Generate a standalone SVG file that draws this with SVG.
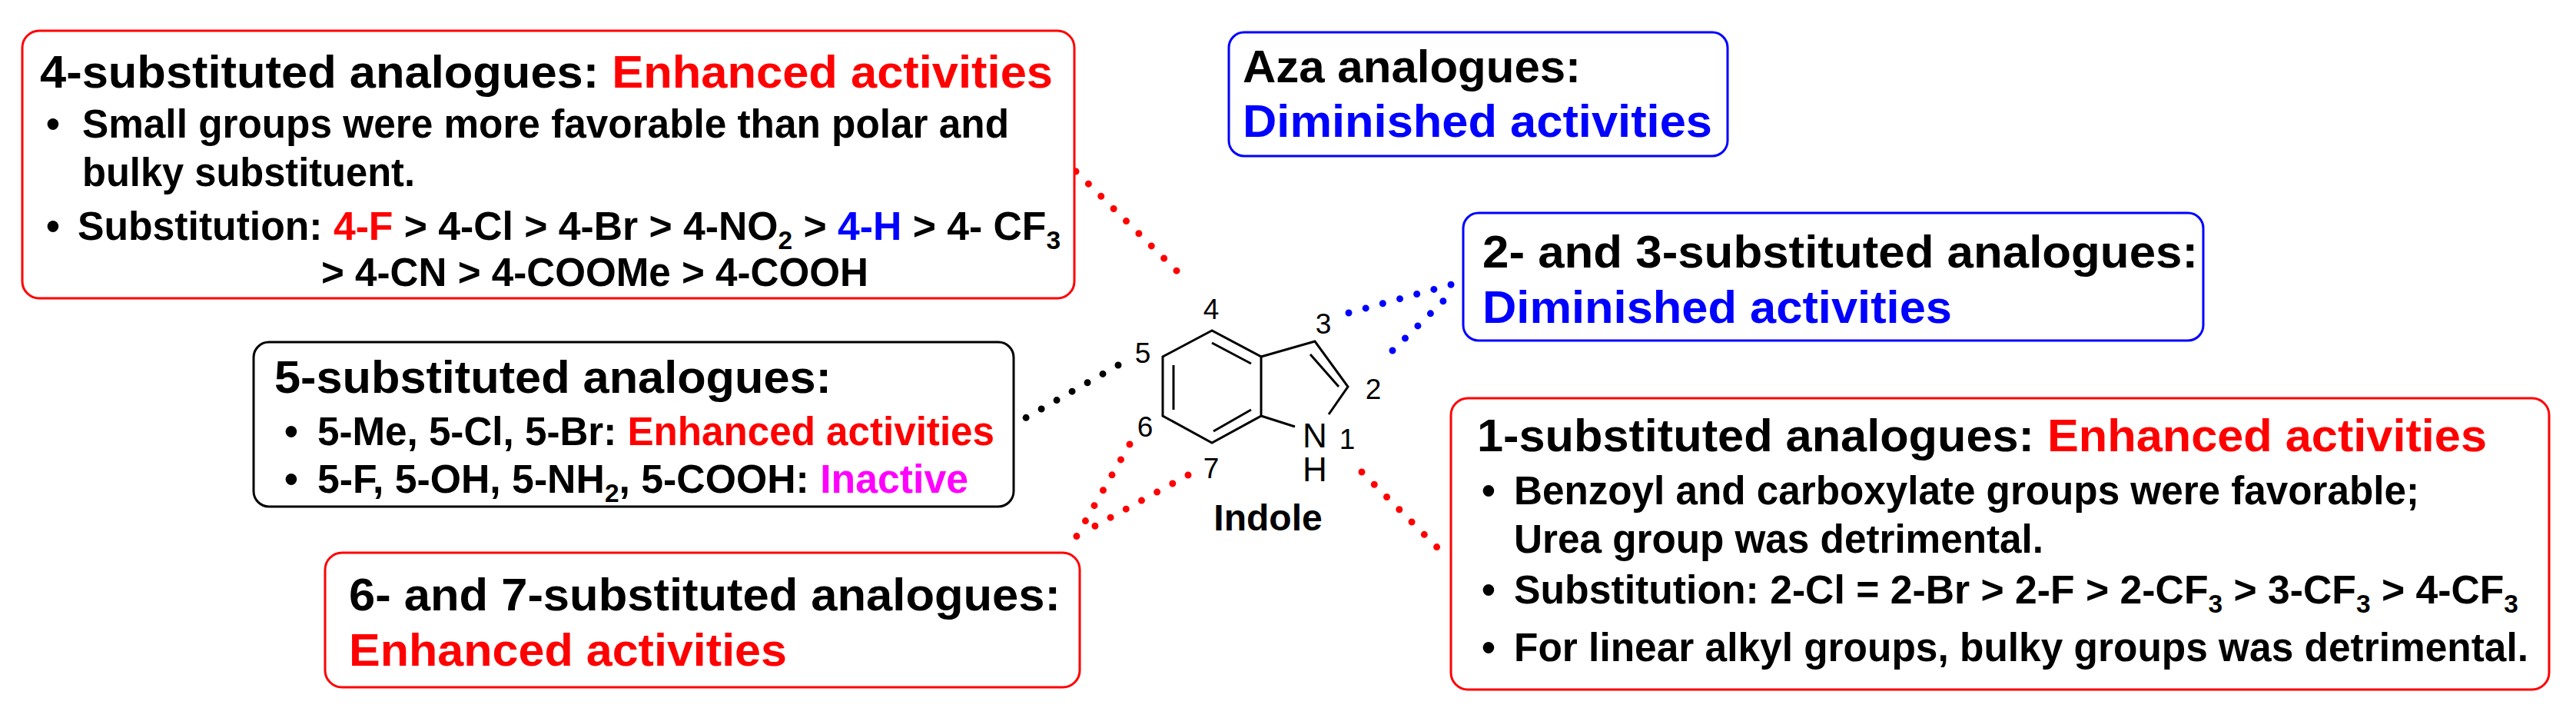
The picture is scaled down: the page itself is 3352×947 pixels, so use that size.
<svg xmlns="http://www.w3.org/2000/svg" width="3352" height="947" viewBox="0 0 3352 947">
<style>
text{font-family:"Liberation Sans",Arial,sans-serif;font-weight:bold;fill:#000}
.t{font-size:60px}
.b{font-size:51px}
.r{fill:#ff0000}
.bl{fill:#0000ff}
.m{fill:#ff00ff}
.box{fill:#fff;stroke-width:3}
.dot{fill:none;stroke-width:9;stroke-linecap:round;stroke-dasharray:0 23}
.bond{stroke:#000;stroke-width:3;fill:none}
.num{font-family:"Liberation Sans",Arial,sans-serif;font-weight:normal;font-size:37px}
</style>
<rect width="3352" height="947" fill="#fff"/>
<g id="connectors">
<line class="dot" stroke="#ff0000" x1="1400" y1="223" x2="1542" y2="363"/>
<line class="dot" stroke="#0000ff" x1="1755" y1="407" x2="1900" y2="367"/>
<line class="dot" stroke="#0000ff" x1="1812" y1="456" x2="1892" y2="378"/>
<line class="dot" stroke="#000" x1="1455" y1="475" x2="1327" y2="548"/>
<line class="dot" stroke="#ff0000" x1="1470" y1="578" x2="1396" y2="706"/>
<line class="dot" stroke="#ff0000" x1="1546" y1="618" x2="1407" y2="694"/>
<line class="dot" stroke="#ff0000" x1="1772" y1="614" x2="1878" y2="720"/>
</g>
<g id="indole">
<path class="bond" d="M1577,430 L1513,464 L1513,541 L1577,576 L1641,541 L1641,464 Z M1641,464 L1711,444 L1754,503 L1729,539 M1641,541 L1685,555"/>
<path class="bond" d="M1577,446 L1628,473 M1527,475 L1527,533 M1579,561 L1628,533 M1705,461 L1742,503"/>
<text class="num" x="1711" y="582" text-anchor="middle" style="font-size:44px">N</text>
<text class="num" x="1711" y="626" text-anchor="middle" style="font-size:44px">H</text>
<text class="num" x="1576" y="415" text-anchor="middle">4</text>
<text class="num" x="1722" y="434" text-anchor="middle">3</text>
<text class="num" x="1487" y="472" text-anchor="middle">5</text>
<text class="num" x="1787" y="519" text-anchor="middle">2</text>
<text class="num" x="1490" y="568" text-anchor="middle">6</text>
<text class="num" x="1753" y="584" text-anchor="middle">1</text>
<text class="num" x="1576" y="622" text-anchor="middle">7</text>
<text x="1650" y="690" text-anchor="middle" style="font-size:48px">Indole</text>
</g>
<g id="box4">
<rect class="box" stroke="#ff0000" x="29" y="40" width="1369" height="348" rx="22"/>
<text class="t" x="52" y="114" textLength="1318" lengthAdjust="spacingAndGlyphs">4-substituted analogues: <tspan class="r">Enhanced activities</tspan></text>
<text class="b" x="60" y="179">•</text>
<text class="b" x="107" y="179" textLength="1206" lengthAdjust="spacingAndGlyphs">Small groups were more favorable than polar and</text>
<text class="b" x="107" y="242" textLength="433" lengthAdjust="spacingAndGlyphs">bulky substituent.</text>
<text class="b" x="60" y="312">•</text>
<text class="b" x="101" y="312" textLength="1279" lengthAdjust="spacingAndGlyphs">Substitution: <tspan class="r">4-F</tspan> &gt; 4-Cl &gt; 4-Br &gt; 4-NO<tspan font-size="33" dy="12">2</tspan><tspan dy="-12"> &gt; </tspan><tspan class="bl">4-H</tspan> &gt; 4- CF<tspan font-size="33" dy="12">3</tspan></text>
<text class="b" x="418" y="372" textLength="712" lengthAdjust="spacingAndGlyphs">&gt; 4-CN &gt; 4-COOMe &gt; 4-COOH</text>
</g>
<g id="boxAza">
<rect class="box" stroke="#0000ff" x="1599" y="42" width="649" height="161" rx="20"/>
<text class="t" x="1617" y="107">Aza analogues:</text>
<text class="t bl" x="1617" y="178" textLength="611" lengthAdjust="spacingAndGlyphs">Diminished activities</text>
</g>
<g id="box23">
<rect class="box" stroke="#0000ff" x="1904" y="277" width="963" height="166" rx="20"/>
<text class="t" x="1929" y="348" textLength="931" lengthAdjust="spacingAndGlyphs">2- and 3-substituted analogues:</text>
<text class="t bl" x="1929" y="420" textLength="611" lengthAdjust="spacingAndGlyphs">Diminished activities</text>
</g>
<g id="box5">
<rect class="box" stroke="#000" x="330" y="445" width="989" height="214" rx="20"/>
<text class="t" x="357" y="511" textLength="725" lengthAdjust="spacingAndGlyphs">5-substituted analogues:</text>
<text class="b" x="370" y="579">•</text>
<text class="b" x="413" y="579" textLength="881" lengthAdjust="spacingAndGlyphs">5-Me, 5-Cl, 5-Br: <tspan class="r">Enhanced activities</tspan></text>
<text class="b" x="370" y="641">•</text>
<text class="b" x="413" y="641" textLength="847" lengthAdjust="spacingAndGlyphs">5-F, 5-OH, 5-NH<tspan font-size="33" dy="12">2</tspan><tspan dy="-12">, 5-COOH: </tspan><tspan class="m">Inactive</tspan></text>
</g>
<g id="box67">
<rect class="box" stroke="#ff0000" x="423" y="719" width="982" height="175" rx="22"/>
<text class="t" x="454" y="794" textLength="926" lengthAdjust="spacingAndGlyphs">6- and 7-substituted analogues:</text>
<text class="t r" x="454" y="866" textLength="570" lengthAdjust="spacingAndGlyphs">Enhanced activities</text>
</g>
<g id="box1">
<rect class="box" stroke="#ff0000" x="1888" y="518" width="1429" height="379" rx="22"/>
<text class="t" x="1922" y="587" textLength="1314" lengthAdjust="spacingAndGlyphs">1-substituted analogues: <tspan class="r">Enhanced activities</tspan></text>
<text class="b" x="1928" y="656">•</text>
<text class="b" x="1970" y="656" textLength="1178" lengthAdjust="spacingAndGlyphs">Benzoyl and carboxylate groups were favorable;</text>
<text class="b" x="1970" y="719" textLength="689" lengthAdjust="spacingAndGlyphs">Urea group was detrimental.</text>
<text class="b" x="1928" y="785">•</text>
<text class="b" x="1970" y="785" textLength="1307" lengthAdjust="spacingAndGlyphs">Substitution: 2-Cl = 2-Br &gt; 2-F &gt; 2-CF<tspan font-size="33" dy="12">3</tspan><tspan dy="-12"> &gt; 3-CF</tspan><tspan font-size="33" dy="12">3</tspan><tspan dy="-12"> &gt; 4-CF</tspan><tspan font-size="33" dy="12">3</tspan></text>
<text class="b" x="1928" y="860">•</text>
<text class="b" x="1970" y="860" textLength="1320" lengthAdjust="spacingAndGlyphs">For linear alkyl groups, bulky groups was detrimental.</text>
</g>
</svg>
